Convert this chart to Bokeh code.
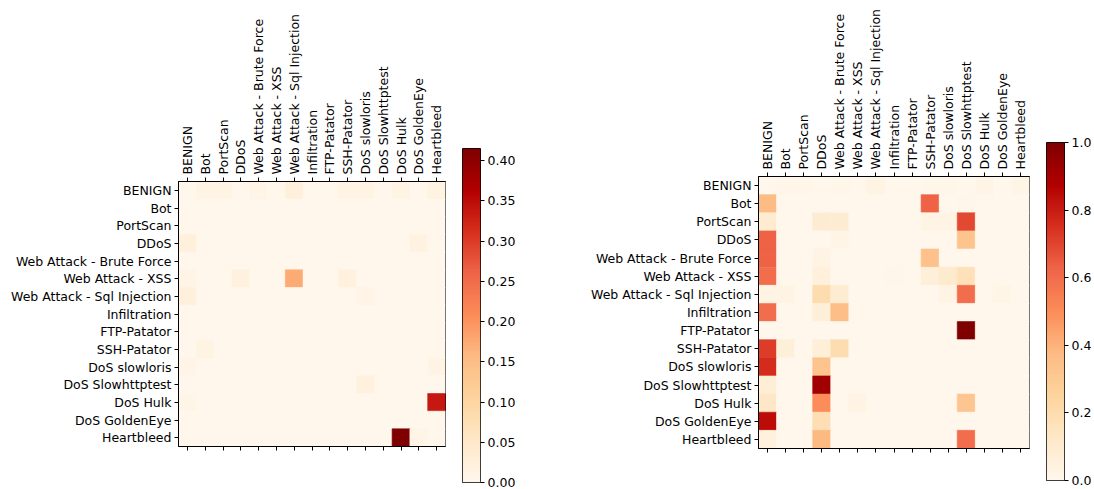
import math
import numpy as np
from bokeh.plotting import figure
from bokeh.layouts import row
from bokeh.models import (FactorRange, Range1d, LinearColorMapper, CategoricalAxis,
                          LinearAxis, FixedTicker, PrintfTickFormatter, ColumnDataSource)
from bokeh.embed import file_html
from bokeh.resources import INLINE

labels = ["BENIGN", "Bot", "PortScan", "DDoS", "Web Attack - Brute Force", "Web Attack - XSS",
          "Web Attack - Sql Injection", "Infiltration", "FTP-Patator", "SSH-Patator",
          "DoS slowloris", "DoS Slowhttptest", "DoS Hulk", "DoS GoldenEye", "Heartbleed"]

# Left matrix (rows = true class, columns = predicted class)
left_matrix = [
    [0, .012, .012, 0, .01, 0, .025, 0, 0, .012, .012, 0, .012, 0, .015],
    [0] * 15,
    [0] * 15,
    [.025, 0, 0, 0, 0, 0, 0, 0, 0, 0, 0, 0, 0, .018, 0],
    [0] * 15,
    [.01, 0, 0, .02, 0, 0, .174, 0, 0, .02, 0, 0, 0, 0, 0],
    [.025, 0, 0, 0, 0, 0, 0, 0, 0, 0, .01, 0, 0, 0, 0],
    [0] * 15,
    [0] * 15,
    [0, .015, 0, 0, 0, 0, 0, 0, 0, 0, 0, 0, 0, 0, 0],
    [.01, 0, 0, 0, 0, 0, 0, 0, 0, 0, 0, 0, 0, 0, .012],
    [0, 0, 0, 0, 0, 0, 0, 0, 0, 0, .02, 0, 0, 0, 0],
    [.008, 0, 0, 0, 0, 0, 0, 0, 0, 0, 0, 0, 0, 0, .336],
    [0] * 15,
    [0, 0, 0, 0, 0, 0, 0, 0, 0, 0, 0, 0, .415, .01, 0],
]

right_matrix = [
    [0, .015, .015, 0, .01, 0, .03, 0, 0, .01, .01, 0, .02, 0, .02],
    [.37, 0, 0, 0, 0, 0, 0, 0, 0, .63, 0, .01, 0, 0, 0],
    [.1, 0, 0, .09, .09, 0, 0, 0, 0, .03, .03, .69, 0, 0, 0],
    [.63, 0, 0, 0, .02, 0, 0, 0, 0, 0, 0, .33, 0, 0, 0],
    [.63, 0, 0, .03, 0, 0, 0, 0, 0, .34, 0, 0, 0, 0, 0],
    [.6, 0, 0, .06, 0, 0, 0, .015, 0, .07, .11, .17, 0, 0, 0],
    [.03, .03, 0, .2, .09, 0, 0, 0, 0, 0, .03, .6, 0, .02, 0],
    [.6, 0, 0, .07, .36, 0, 0, 0, 0, 0, 0, 0, 0, 0, 0],
    [0, 0, 0, 0, 0, 0, 0, 0, 0, 0, 0, 1.0, 0, 0, 0],
    [.72, .07, 0, .07, .2, 0, 0, 0, 0, 0, 0, 0, 0, 0, 0],
    [.76, 0, 0, .33, 0, 0, 0, 0, 0, 0, 0, 0, 0, 0, 0],
    [.08, 0, 0, .92, 0, 0, 0, 0, 0, 0, 0, 0, 0, 0, 0],
    [.13, 0, 0, .5, 0, .03, 0, 0, 0, 0, 0, .32, 0, 0, 0],
    [.84, 0, 0, .18, 0, 0, 0, 0, 0, 0, 0, 0, 0, 0, 0],
    [.05, 0, 0, .38, 0, 0, 0, 0, 0, 0, 0, .6, 0, 0, 0],
]

left_ticks = [0.0, 0.05, 0.10, 0.15, 0.20, 0.25, 0.30, 0.35, 0.40]
right_ticks = [0.0, 0.2, 0.4, 0.6, 0.8, 1.0]

# OrRd colormap (matplotlib-like, 256 levels)
orrd9 = ["#fff7ec", "#fee8c8", "#fdd49e", "#fdbb84", "#fc8d59", "#ef6548", "#d7301f", "#b30000", "#7f0000"]
anchors = np.array([[int(c[i:i + 2], 16) for i in (1, 3, 5)] for c in orrd9], dtype=float)
pos = np.linspace(0, 1, len(orrd9))
t = np.linspace(0, 1, 256)
palette = ["#%02x%02x%02x" % tuple(int(round(np.interp(tt, pos, anchors[:, k]))) for k in range(3)) for tt in t]

FONT = "DejaVu Sans"
FS = "12.5px"


def heatmap(matrix, vmax, bl, bt, fw, fh):
    mapper = LinearColorMapper(palette=palette, low=0, high=vmax)
    xs, ys, vs = [], [], []
    for i, r in enumerate(matrix):
        for j, v in enumerate(r):
            xs.append(labels[j]); ys.append(labels[i]); vs.append(v)
    src = ColumnDataSource(dict(x=xs, y=ys, v=vs))
    p = figure(x_range=FactorRange(factors=labels, range_padding=0),
               y_range=FactorRange(factors=labels[::-1], range_padding=0),
               frame_width=fw, frame_height=fh, x_axis_location="above",
               min_border_left=bl, min_border_top=bt, min_border_right=10, min_border_bottom=20,
               toolbar_location=None, output_backend="svg")
    p.frame_align = False
    p.rect("x", "y", 1, 1, source=src,
           fill_color={"field": "v", "transform": mapper},
           line_color={"field": "v", "transform": mapper}, line_width=0.6)
    bottom = CategoricalAxis()
    p.add_layout(bottom, "below")
    for ax in p.axis:
        ax.axis_line_color = "black"
        ax.major_tick_out = 4
        ax.major_tick_in = 0
        ax.major_tick_line_color = "black"
        ax.major_label_standoff = 3
        ax.major_label_text_font = FONT
        ax.major_label_text_font_size = FS
        ax.major_label_text_color = "black"
    p.xaxis[0].major_label_orientation = math.pi / 2
    bottom.major_label_text_color = None
    bottom.major_label_text_alpha = 0
    p.grid.visible = False
    p.outline_line_color = "black"
    p.outline_line_alpha = 1
    return p, mapper


def colorbar(mapper, vmax, ticks, fmt, bl, bt, fh, br, bb):
    p = figure(x_range=Range1d(0, 1), y_range=Range1d(0, vmax),
               frame_width=18, frame_height=fh,
               x_axis_location=None, y_axis_location=None,
               min_border_left=bl, min_border_top=bt, min_border_right=br, min_border_bottom=bb,
               toolbar_location=None, output_backend="svg")
    p.frame_align = False
    grad = np.linspace(0, vmax, 256).reshape(-1, 1)
    p.image(image=[grad], x=0, y=0, dw=1, dh=vmax, color_mapper=mapper)
    ax = LinearAxis(ticker=FixedTicker(ticks=ticks), formatter=PrintfTickFormatter(format=fmt))
    ax.axis_line_color = None
    ax.major_tick_out = 4
    ax.major_tick_in = 0
    ax.minor_tick_out = 0
    ax.minor_tick_in = 0
    ax.major_label_standoff = 3
    ax.major_label_text_font = FONT
    ax.major_label_text_font_size = FS
    ax.major_label_text_color = "black"
    p.add_layout(ax, "right")
    p.grid.visible = False
    p.outline_line_color = "black"
    p.outline_line_alpha = 1
    return p


left_max = max(max(r) for r in left_matrix)
right_max = 1.0

p1, m1 = heatmap(left_matrix, left_max, 178, 181, 267, 265)
c1 = colorbar(m1, left_max, left_ticks, "%.2f", 7, 148, 334, 80, 7)
p2, m2 = heatmap(right_matrix, right_max, 198, 176, 271, 272)
c2 = colorbar(m2, right_max, right_ticks, "%.1f", 7, 142, 338, 26, 9)

layout = row(p1, c1, p2, c2)
html = file_html(layout, INLINE)
html = html.replace("</head>", "<style>html,body{overflow:hidden}</style></head>")
open("out.html", "w").write(html)
